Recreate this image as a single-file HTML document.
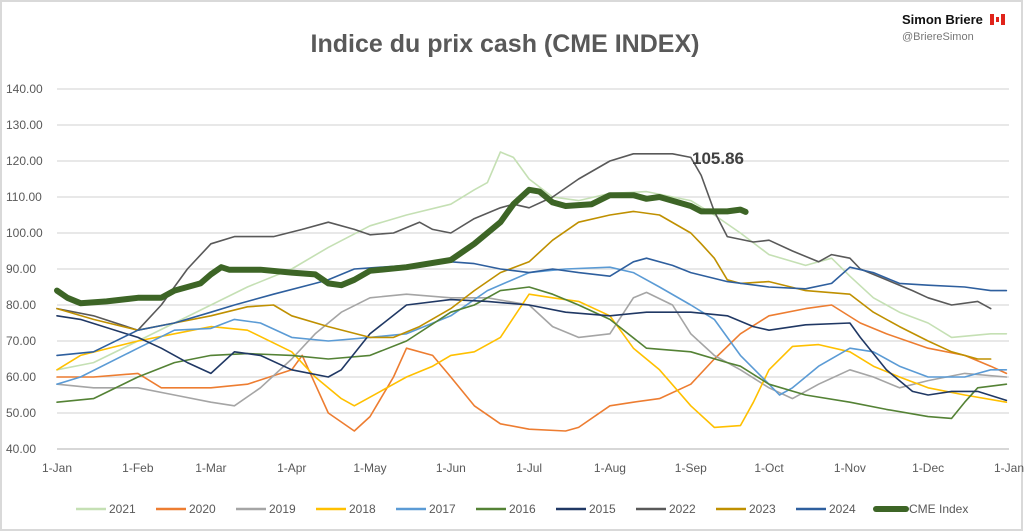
<!DOCTYPE html>
<html><head><meta charset="utf-8"><style>
body{margin:0;background:#fff;font-family:"Liberation Sans",sans-serif}
#wrap{position:relative;width:1024px;height:532px;overflow:hidden}
</style></head><body>
<div id="wrap">
<svg id="chart" width="1024" height="532">
<rect x="1" y="1" width="1021" height="529" fill="#fff" stroke="#d9d9d9" stroke-width="2"/>
<text x="505" y="52" text-anchor="middle" font-size="25" font-weight="bold" fill="#595959">Indice du prix cash (CME INDEX)</text>
<text x="902" y="24" font-size="13" font-weight="bold" fill="#111">Simon Briere</text>
<g><rect x="990" y="14" width="4" height="11" fill="#e0241b"/><rect x="994" y="14" width="7" height="11" fill="#fff"/><rect x="1001" y="14" width="4" height="11" fill="#e0241b"/><rect x="996" y="17" width="3" height="5" fill="#e0241b"/></g>
<text x="902" y="40" font-size="11" fill="#777">@BriereSimon</text>
<g id="grid"></g><g id="series"></g><g id="legend"></g>
<text x="692" y="164" font-size="17" font-weight="bold" fill="#404040">105.86</text>
</svg>
</div>
<script>
const yTicks=[40,50,60,70,80,90,100,110,120,130,140];
const monthLabels=["1-Jan","1-Feb","1-Mar","1-Apr","1-May","1-Jun","1-Jul","1-Aug","1-Sep","1-Oct","1-Nov","1-Dec","1-Jan"];
const monthStartDays=[0,31,59,90,120,151,181,212,243,273,304,334,365];
const seriesNames=["2021","2020","2019","2018","2017","2016","2015","2022","2023","2024","CME Index"];
const seriesColors=["#c5e0b4","#ed7d31","#a5a5a5","#ffc000","#5b9bd5","#548235","#203864","#595959","#bf9000","#2e5f9e","#3d6526"];
const d2021=[0,14,31,45,59,73,90,104,120,134,151,160,165,170,175,181,190,200,212,226,243,252,262,273,287,297,304,313,323,334,343,358,364];
const v2021=[62,64,70,75,80,85,90,96,102,105,108,112,114,122.5,121,115,110,109,111,111.5,109,105,100,94,91,93,88,82,78,75,71,72,72];
const d2020=[0,14,31,40,59,73,90,94,99,104,114,120,129,134,144,151,160,170,181,195,200,212,221,231,243,252,262,273,287,297,308,318,334,348,358,364];
const v2020=[60,60,61,57,57,58,62,66,58,50,45,49,60,68,66,60,52,47,45.5,45,46,52,53,54,58,65,72,77,79,80,75,72,68,66,63,61];
const d2019=[0,14,31,45,59,68,78,90,99,109,120,134,151,165,181,190,200,212,221,226,236,243,252,262,273,282,292,304,313,323,334,348,364];
const v2019=[58,57,57,55,53,52,57,65,72,78,82,83,82,82,80,74,71,72,82,83.5,80,72,66,62,57,54,58,62,60,57,59,61,60];
const d2018=[0,9,31,45,59,73,90,99,109,114,124,134,144,151,160,170,181,190,200,212,221,231,243,252,262,267,273,282,292,304,313,323,334,348,364];
const v2018=[62,66,70,72,74,73,67,60,54,52,56,60,63,66,67,71,83,82,81,77,68,62,52,46,46.5,53,62,68.5,69,67,63,60,57,55,53];
const d2017=[0,9,31,45,59,68,78,90,104,120,134,151,165,181,195,212,221,231,243,252,262,273,277,282,292,304,313,323,334,348,358,364];
const v2017=[58,60,68,73,73.5,76,75,71,70,71,72,77,84,89,90,90.5,89,85,80,76,66,58,55,57,63,68,67,63,60,60,62,62];
const d2016=[0,14,31,45,59,73,90,104,120,134,151,160,170,181,190,200,212,226,243,257,262,273,287,304,318,334,343,348,353,364];
const v2016=[53,54,60,64,66,66.5,66,65,66,70,78,80,84,85,83,80,76,68,67,64,63,58,55,53,51,49,48.5,53,57,58];
const d2015=[0,9,31,40,50,59,68,78,90,104,109,120,134,151,165,181,195,212,226,243,257,267,273,287,304,308,318,328,334,343,353,364];
const v2015=[77,76,71,68,64,61,67,66,62,60,62,72,80,81.5,81,80,78,77,78,78,77,74,73,74.5,75,71,62,56,55,56,56,53.5];
const d2022=[0,14,31,40,50,59,68,83,94,104,114,120,129,139,144,151,160,170,175,181,190,200,212,221,236,243,247,252,257,267,273,282,292,297,304,308,318,328,334,343,353,358];
const v2022=[79,77,73,80,90,97,99,99,101,103,101,99.5,100,103,101,100,104,107,108,107,110,115,120,122,122,121,116,106,99,97.5,98,95,92,94,93,90,87,84,82,80,81,79];
const d2023=[0,14,31,45,59,73,83,90,104,120,129,139,151,160,170,181,190,200,212,221,231,243,247,252,257,262,273,287,304,313,323,334,343,353,358];
const v2023=[79,76,73,75,77,79.5,80,77,74,71,71,74,79,84,89,92,98,103,105,106,105,100,97,93,87,86,86.5,84,83,78,74,70,67,65,65];
const d2024=[0,14,31,45,59,68,83,99,104,114,124,134,151,160,170,181,190,200,212,221,226,236,243,257,273,287,297,304,313,323,334,348,358,364];
const v2024=[66,67,73,75,78,80,83,86,87,90,90.5,91,92,91.5,90,89,90,89,88,92,93,91,89,86.5,85,84.5,86,90.5,89,86,85.5,85,84,84];
const dCME=[0,4,9,19,31,40,45,55,59,63,66,78,90,99,104,109,114,120,134,151,160,170,175,181,185,190,195,205,212,221,226,231,243,247,257,262,264];
const vCME=[84,82,80.5,81,82,82,84,86,88.5,90.5,89.8,89.8,89,88.5,86,85.5,87,89.5,90.5,92.5,97,103,108,112,111.5,108.5,107.5,108,110.5,110.5,109.5,110,107.5,106,106,106.5,105.86];
const seriesDays=[d2021,d2020,d2019,d2018,d2017,d2016,d2015,d2022,d2023,d2024,dCME];
const seriesVals=[v2021,v2020,v2019,v2018,v2017,v2016,v2015,v2022,v2023,v2024,vCME];
const NS="http://www.w3.org/2000/svg";
const X0=57,X1=1009,Y0=449,YMIN=40,YMAX=140,YTOP=89;
const xs=d=>X0+d*(X1-X0)/365;
const ys=v=>Y0-(v-YMIN)*(Y0-YTOP)/(YMAX-YMIN);
function mk(tag,attrs,parent){const e=document.createElementNS(NS,tag);for(const k in attrs)e.setAttribute(k,attrs[k]);parent.appendChild(e);return e;}
const grid=document.getElementById('grid');
yTicks.forEach(t=>{
  const l=mk('line',{x1:X0,x2:X1,y1:ys(t),y2:ys(t),stroke:t===40?'#bfbfbf':'#d9d9d9','stroke-width':1.3},grid);
  
  
  const tx=mk('text',{x:6,y:ys(t)+4,'font-size':12,fill:'#595959'},grid);
  tx.textContent=t.toFixed(2);
  
  
});
monthLabels.forEach((m,i)=>{
  const tx=mk('text',{x:xs(monthStartDays[i]),y:472,'font-size':12,fill:'#595959','text-anchor':'middle'},grid);
  tx.textContent=m;
  
  
});
const sg=document.getElementById('series');
seriesNames.forEach((n,i)=>{
  const pts=seriesDays[i].map((d,j)=>xs(d).toFixed(1)+','+ys(seriesVals[i][j]).toFixed(1)).join(' ');
  const p=mk('polyline',{points:pts,fill:'none',stroke:seriesColors[i],'stroke-width':n==='CME Index'?6:1.6,'stroke-linejoin':'round','stroke-linecap':'round'},sg);
  
  
});
const lg=document.getElementById('legend');
seriesNames.forEach((n,i)=>{
  const x=76+i*80;
  const g=mk('g',{},lg);
  
  
  mk('line',{x1:x,x2:x+30,y1:509,y2:509,stroke:seriesColors[i],'stroke-width':n==='CME Index'?6:2.5,'stroke-linecap':n==='CME Index'?'round':'butt'},g);
  const t=mk('text',{x:x+33,y:513,'font-size':12,fill:'#595959'},g);
  t.textContent=n;
});
</script>
</body></html>
